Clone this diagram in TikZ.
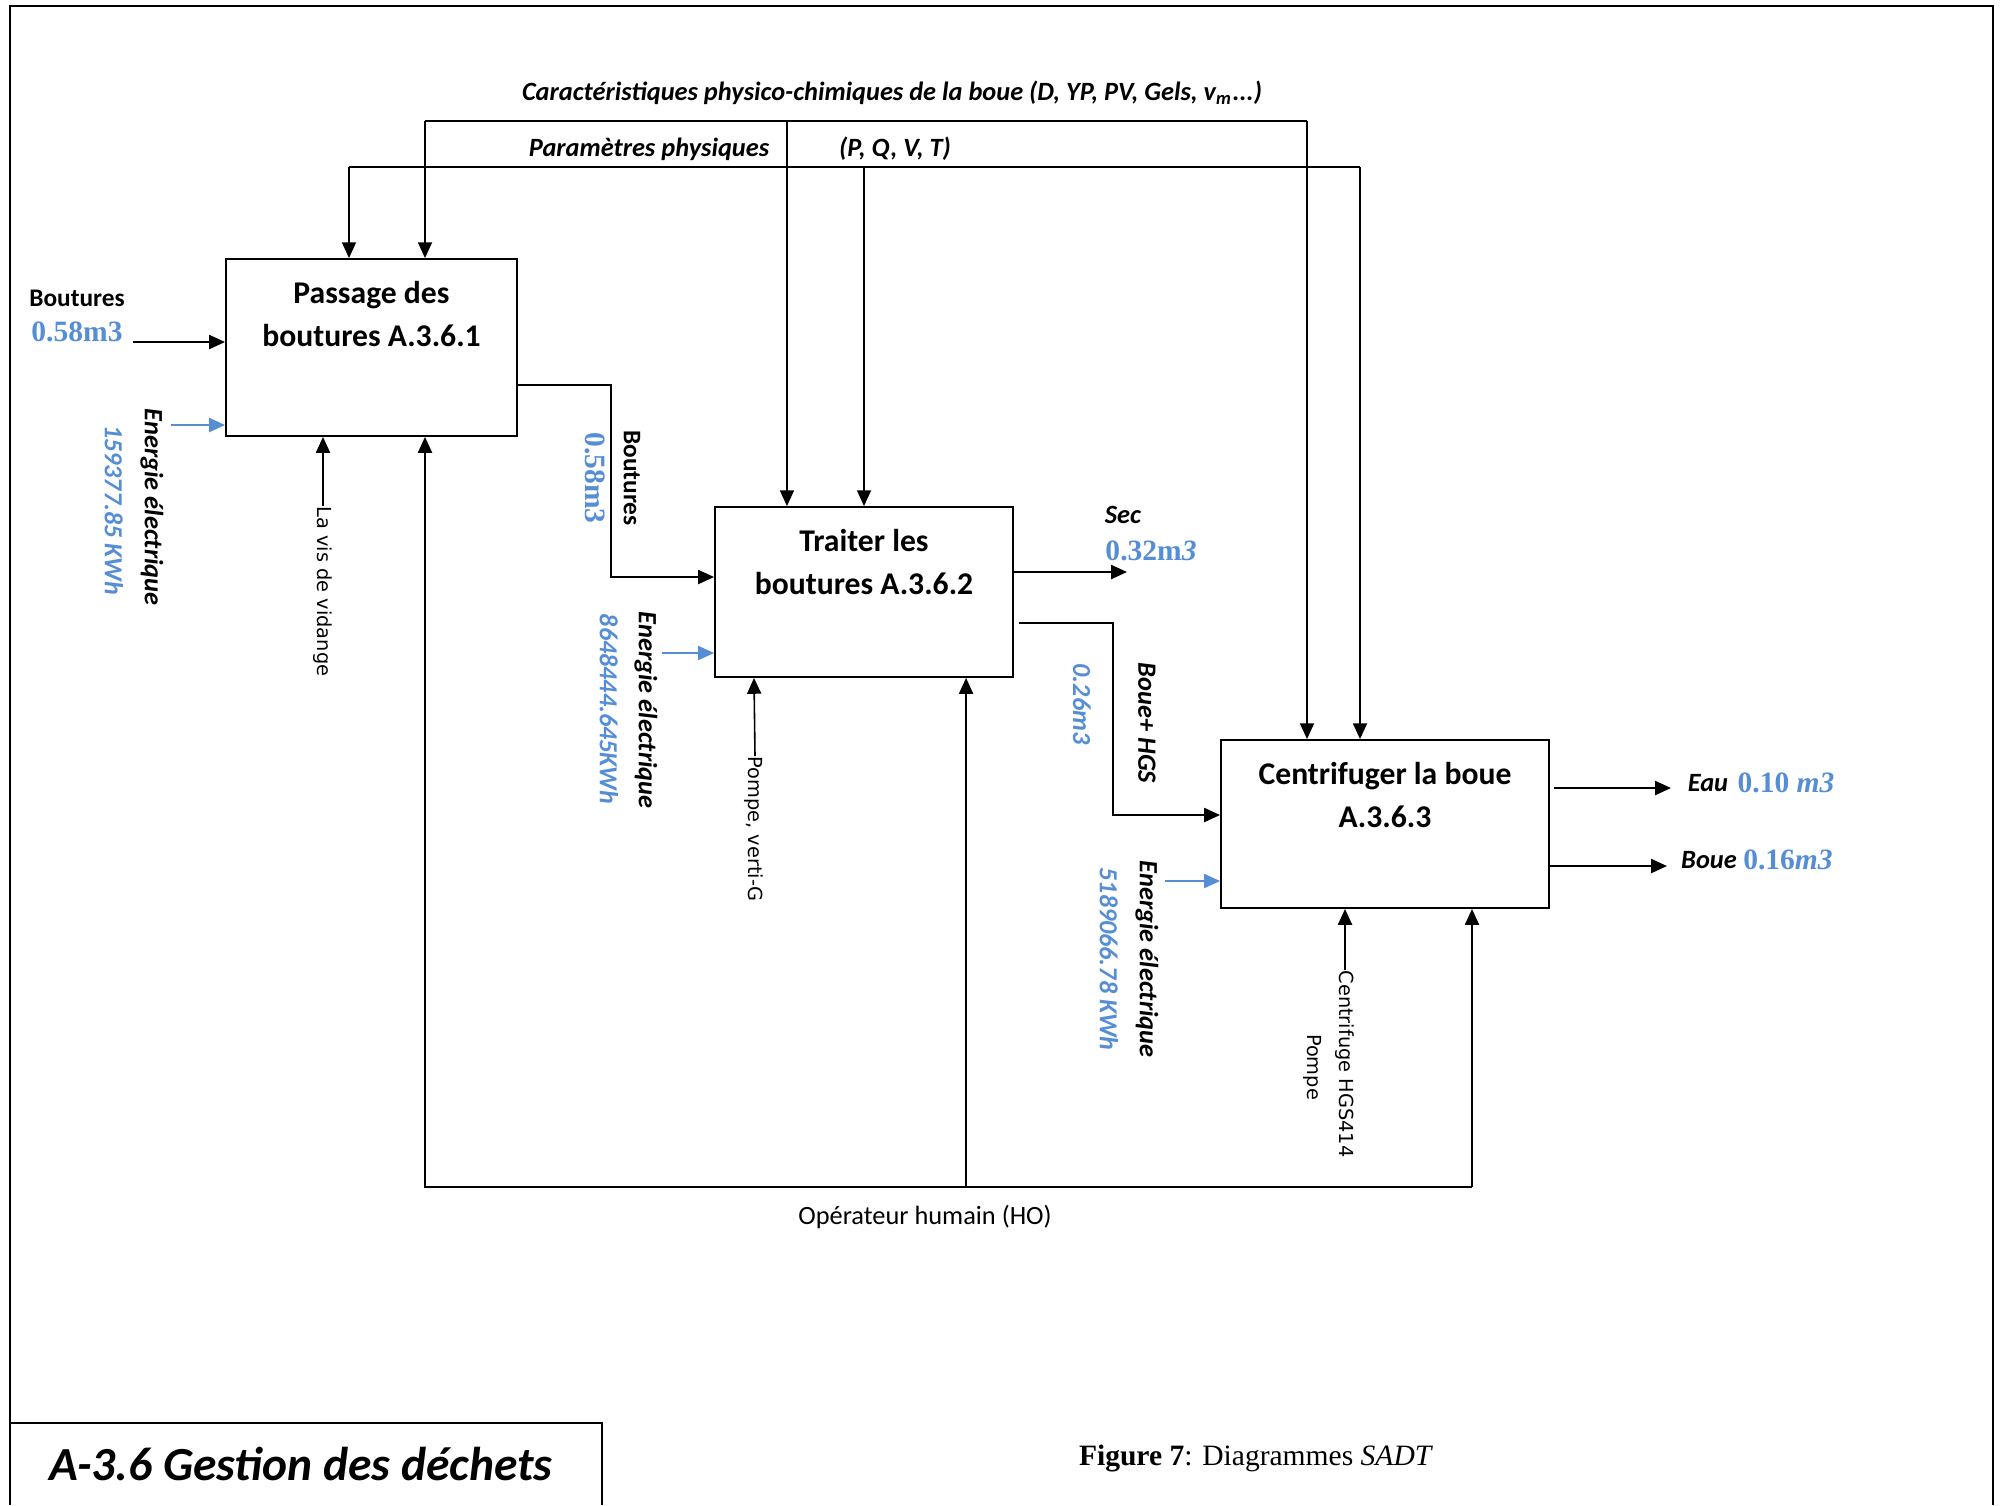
\documentclass[tikz,border=0pt]{standalone}
\usepackage{fontspec}
\setmainfont{Carlito}
\newfontfamily\numfont{Liberation Serif}
\newfontfamily\mechfont{DejaVu Sans}
\usepackage{xcolor}
\usepackage{tikz}
\usetikzlibrary{positioning,calc,arrows.meta}
\definecolor{qtyblue}{RGB}{85,142,213}

\begin{document}
\begin{tikzpicture}[
    x=0.01cm, y=-0.01cm,
    box/.style={draw, line width=0.5pt, inner sep=0},
    boxtitle/.style={font=\fontsize{9}{12.5}\selectfont\bfseries, align=center, anchor=north, inner sep=0},
    lbl/.style={font=\fontsize{7.5}{9}\selectfont\bfseries\itshape, inner sep=0},
    lblup/.style={font=\fontsize{7.2}{9}\selectfont\bfseries, inner sep=0},
    qty/.style={text=qtyblue, font=\numfont\bfseries\fontsize{8.4}{10}\selectfont, inner sep=0},
    qtyit/.style={text=qtyblue, font=\fontsize{7.4}{9}\selectfont\bfseries\itshape, inner sep=0},
    mech/.style={font=\mechfont\fontsize{5.5}{7}\selectfont, inner sep=0, rotate=-90},
    arrow/.style={-{Triangle[length=4.5pt,width=4pt]}, line width=0.45pt},
    energy/.style={arrow, qtyblue},
    bar/.style={line width=0.6pt}
]
\useasboundingbox (0,0) rectangle (2003,1505);

% Frame
\draw[line width=0.6pt] (10,1505) -- (10,6) -- (1993,6) -- (1993,1505);
\draw[line width=0.6pt] (10,1423) -- (602,1423) -- (602,1505);
\node[font=\fontsize{13.5}{16}\selectfont\bfseries\itshape] (title) at (301,1464) {A-3.6 Gestion des déchets};
\node[font=\numfont\fontsize{8.4}{10}\selectfont] (caption) at (1256,1458) {\textbf{Figure 7}: Diagrammes \textit{SADT}};

% Activity boxes
\node[box, minimum width=2.91cm, minimum height=1.77cm] (p1) at (371.5,347.5) {};
\node[box, minimum width=2.98cm, minimum height=1.70cm] (p2) at (864,592) {};
\node[box, minimum width=3.28cm, minimum height=1.68cm] (p3) at (1385,824) {};

\node[boxtitle, below=0.22cm of p1.north] (t1) {Passage des\\boutures A.3.6.1};
\node[boxtitle, below=0.22cm of p2.north] (t2) {Traiter les\\boutures A.3.6.2};
\node[boxtitle, below=0.22cm of p3.north] (t3) {Centrifuger la boue\\A.3.6.3};

% Controls
\coordinate (ca1) at (425,121);
\coordinate (ca2) at (1307,121);
\coordinate (cb1) at (349,167);
\coordinate (cb2) at (1360,167);
\node[lbl] (cara) at (892,93) {Caractéristiques physico-chimiques de la boue (D, YP, PV, Gels, v\textsubscript{m}...)};
\node[lbl] (param) at (649,149) {Paramètres physiques};
\node[lbl] (pqvt) at (895,149) {(P, Q, V, T)};

\draw[bar] (ca1) -- (ca2);
\draw[bar] (cb1) -- (cb2);
\draw[arrow] (ca1) -- (ca1 |- p1.north);
\draw[arrow] (cb1) -- (cb1 |- p1.north);
\draw[arrow] ([xshift=-0.77cm]p2.north |- ca1) -- ([xshift=-0.77cm]p2.north);
\draw[arrow] (p2.north |- cb1) -- (p2.north);
\draw[arrow] (ca2) -- (ca2 |- p3.north);
\draw[arrow] (cb2) -- (cb2 |- p3.north);

% Inputs of A.3.6.1
\node[lblup] (in1) at (77,298) {Boutures};
\node[qty] (q1) at (77,332) {0.58m3};
\coordinate (s1) at (133,342);
\draw[arrow] (s1) -- (s1 -| p1.west);
\coordinate (e1) at (171,425);
\draw[energy] (e1) -- (e1 -| p1.west);
\node[lbl, rotate=-90] (el1) at (152,507) {Energie électrique};
\node[qtyit, rotate=-90] (eq1) at (114,510) {159377.85 KWh};

% Mechanism of A.3.6.1
\node[mech, anchor=west] (vis) at (323,506) {La vis de vidange};
\draw[arrow] (vis.west) -- (vis.west |- p1.south);

% A.3.6.1 -> A.3.6.2
\coordinate (k1) at (611,385);
\draw[arrow] (k1 -| p1.east) -- (k1) |- ([yshift=0.15cm]p2.west);
\node[lblup, rotate=-90] (b2) at (632,478) {Boutures};
\node[qty, rotate=-90] (q2) at (595,478) {0.58m3};

% Energy of A.3.6.2
\coordinate (e2) at (662,653);
\draw[energy] (e2) -- (e2 -| p2.west);
\node[lbl, rotate=-90] (el2) at (646,710) {Energie électrique};
\node[qtyit, rotate=-90] (eq2) at (609,709) {8648444.645KWh};

% Mechanism of A.3.6.2
\node[mech, anchor=west] (pompe) at (754,756) {Pompe, verti-G};
\draw[arrow] ([xshift=0.01cm]pompe.west) -- (pompe.west |- p2.south);

% Outputs of A.3.6.2
\coordinate (sec) at (1127,572);
\draw[arrow] (sec -| p2.east) -- (sec);
\node[lbl] (sect) at (1123,515) {Sec};
\node[qty] (q3) at (1151,551) {0.32m\textit{3}};

\coordinate (k2) at (1113,623);
\draw[arrow] ([xshift=0.05cm]k2 -| p2.east) -- (k2) |- ([yshift=0.09cm]p3.west);
\node[lbl, rotate=-90] (hgs) at (1147,723) {Boue+ HGS};
\node[qtyit, rotate=-90] (q4) at (1082,704) {0.26m3};

% Energy of A.3.6.3
\coordinate (e3) at (1165,881);
\draw[energy] (e3) -- (e3 -| p3.west);
\node[lbl, rotate=-90] (el3) at (1147,959) {Energie électrique};
\node[qtyit, rotate=-90] (eq3) at (1109,959) {5189066.78 KWh};

% Mechanism of A.3.6.3
\node[mech, anchor=west] (cfg) at (1345,970) {Centrifuge HGS414};
\node[mech] (pmp) at (1313,1067) {Pompe};
\draw[arrow] (cfg.west) -- (cfg.west |- p3.south);

% Outputs of A.3.6.3
\coordinate (eau) at (1671,788);
\draw[arrow] ([xshift=0.04cm]eau -| p3.east) -- (eau);
\node[lbl] (eaut) at (1708,783) {Eau};
\node[qty] (q5) at (1786,783) {0.10 \textit{m3}};
\coordinate (boue) at (1667,866);
\draw[arrow] (boue -| p3.east) -- (boue);
\node[lbl] (bouet) at (1709,860) {Boue};
\node[qty] (q6) at (1788,860) {0.16\textit{m3}};

% Human operator
\coordinate (ho1) at (425,1187);
\coordinate (ho2) at (1472,1187);
\draw[arrow] (ho2) -- (ho1) -- (ho1 |- p1.south);
\draw[arrow] ([xshift=1.02cm]p2.south |- ho1) -- ([xshift=1.02cm]p2.south);
\draw[arrow] (ho2) -- (ho2 |- p3.south);
\node[font=\fontsize{7.5}{9}\selectfont, inner sep=0] (ho) at (925,1217) {Opérateur humain (HO)};

\end{tikzpicture}
\end{document}
